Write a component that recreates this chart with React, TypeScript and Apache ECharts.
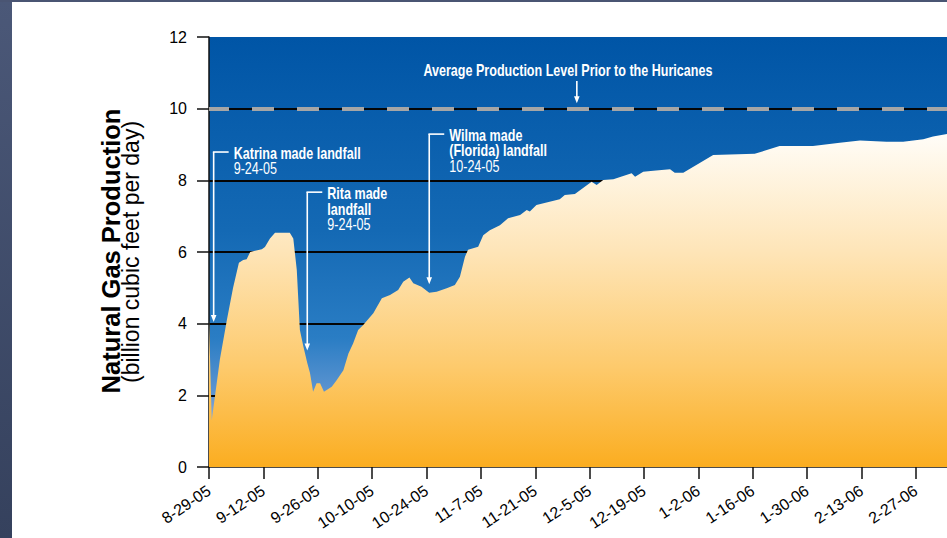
import { useEffect, useRef } from 'react';
import * as echarts from 'echarts';

// Date ticks along the x axis, one every two weeks starting 8-29-05 (day 0)
const tickLabels = [
  '8-29-05', '9-12-05', '9-26-05', '10-10-05', '10-24-05', '11-7-05', '11-21-05',
  '12-5-05', '12-19-05', '1-2-06', '1-16-06', '1-30-06', '2-13-06', '2-27-06',
];
const TICK_STEP = 14;
const tickDays = tickLabels.map((_, i) => i * TICK_STEP);
const X_MAX = 190;

// Gulf of Mexico natural gas production, days since 8-29-05
const days = [
  0, 0.7, 2.8, 4.6, 6.2, 7.7, 8.8, 9.7, 10.6, 13.6, 14.4, 15.7, 17.0, 20.8, 21.7,
  22.6, 23.4, 24.3, 25.3, 26.0, 26.8, 27.7, 28.6, 29.6, 31.6, 32.9, 34.6, 35.9, 37.1,
  38.4, 39.7, 42.3, 44.5, 46.6, 48.7, 50.0, 51.6, 52.6, 54.7, 56.7, 58.6, 61.2, 63.3,
  64.6, 65.9, 66.7, 69.3, 70.6, 72.3, 74.9, 77.0, 80.1, 81.8, 82.6, 84.3, 90.3, 91.6,
  94.2, 98.5, 99.8, 101.5, 104.1, 108.8, 109.7, 111.8, 114.4, 118.7, 119.9, 122.1,
  129.8, 140.5, 146.9, 155.5, 162.4, 167.6, 174.4, 178.7, 183.9, 186.4, 190,
];
// billion cubic feet per day
const production = [
  4.1, 1.3, 3.0, 4.1, 5.0, 5.7, 5.78, 5.8, 6.0, 6.08, 6.14, 6.38, 6.54, 6.54, 6.38,
  5.5, 3.82, 3.36, 2.9, 2.62, 2.1, 2.34, 2.34, 2.1, 2.24, 2.43, 2.7, 3.17, 3.45,
  3.82, 3.96, 4.29, 4.71, 4.8, 4.94, 5.17, 5.29, 5.13, 5.03, 4.86, 4.89, 4.99, 5.08,
  5.31, 5.87, 6.06, 6.15, 6.47, 6.61, 6.75, 6.94, 7.03, 7.17, 7.13, 7.31, 7.47, 7.59,
  7.62, 7.96, 7.87, 8.01, 8.03, 8.2, 8.1, 8.24, 8.27, 8.31, 8.21, 8.21,
  8.71, 8.74, 8.96, 8.96, 9.05, 9.11, 9.08, 9.08, 9.15, 9.22, 9.29,
];

const averageLevel = 10;

// Callouts: anchored in data space (day, value)
const averageNote = {
  text: 'Average Production Level Prior to the Huricanes',
  textDay: 92.4, textValue: 11.07,
  arrowDay: 94.7, arrowFrom: 10.77, arrowTo: 10.15,
};

const landfallNotes = [
  { day: 1.2, top: 8.79, tip: 4.05, lines: [['Katrina made landfall', true], ['9-24-05', false]] },
  { day: 25.3, top: 7.67, tip: 3.25, lines: [['Rita made', true], ['landfall', true], ['9-24-05', false]] },
  { day: 56.7, top: 9.29, tip: 5.1, lines: [['Wilma made', true], ['(Florida) landfall', true], ['10-24-05', false]] },
] as { day: number; top: number; tip: number; lines: [string, boolean][] }[];

const SANS = '"Liberation Sans", Arial, Helvetica, sans-serif';
// Callout type is a condensed grotesque: regular sans squeezed horizontally
const CONDENSE = 0.785;
const NOTE_SIZE = 16;
const NOTE_LINE = 15.8;

export default function App() {
  const ref = useRef<HTMLDivElement>(null);

  useEffect(() => {
    document.body.style.margin = '0';
    const chart = echarts.init(ref.current!, null, { renderer: 'svg' });

    const axisStroke = { color: '#111', width: 1.5 };

    chart.setOption({
      animation: false,
      backgroundColor: '#ffffff',
      grid: {
        left: 209, right: 0, top: 37, bottom: 71,
        show: true, borderWidth: 0,
        backgroundColor: new echarts.graphic.LinearGradient(0, 0, 0, 1, [
          { offset: 0, color: '#0055a6' },
          { offset: 0.45, color: '#1469b4' },
          { offset: 0.7, color: '#2a7dc4' },
          { offset: 0.82, color: '#5a93d0' },
          { offset: 0.92, color: '#a6b4d6' },
          { offset: 1, color: '#f0b860' },
        ]),
      },
      xAxis: {
        type: 'value', min: 0, max: X_MAX, interval: TICK_STEP,
        axisLine: { show: true, onZero: false, lineStyle: axisStroke },
        axisTick: { show: true, length: 12, lineStyle: axisStroke, customValues: tickDays },
        axisLabel: {
          customValues: tickDays,
          rotate: 34, margin: 22, fontSize: 16, color: '#000', fontFamily: SANS,
          formatter: (v: number) => tickLabels[Math.round(v / TICK_STEP)] ?? '',
        },
        splitLine: { show: false },
      },
      yAxis: {
        type: 'value', min: 0, max: 12, interval: 2,
        axisLine: { show: true, lineStyle: axisStroke },
        axisTick: { show: true, length: 12, lineStyle: axisStroke },
        axisLabel: { margin: 22, fontSize: 16, color: '#000', fontFamily: SANS },
        splitLine: {
          show: true, showMinLine: false, showMaxLine: false,
          lineStyle: { color: '#050505', width: 2 },
        },
      },
      series: [
        {
          type: 'line',
          data: days.map((d, i) => [d, production[i]]),
          symbol: 'none',
          lineStyle: { width: 0 },
          areaStyle: {
            opacity: 1,
            color: new echarts.graphic.LinearGradient(0, 0, 0, 1, [
              { offset: 0, color: '#fffdf8' },
              { offset: 0.35, color: '#fee5b8' },
              { offset: 0.7, color: '#fdca6c' },
              { offset: 1, color: '#fbad20' },
            ]),
          },
          markLine: {
            silent: true,
            symbol: ['none', 'none'],
            label: { show: false },
            lineStyle: { color: '#a6a6a6', width: 4, type: [22, 23], dashOffset: 2 },
            data: [{ yAxis: averageLevel }],
          },
          z: 3,
        },
      ],
    });

    const px = (d: number, v: number) =>
      chart.convertToPixel({ gridIndex: 0 }, [d, v]) as number[];

    const white = '#ffffff';
    const graphic: any[] = [];

    // Window frame strips
    graphic.push({
      type: 'rect', z: 0,
      shape: { x: 0, y: 0, width: 12, height: 538 },
      style: {
        fill: new echarts.graphic.LinearGradient(0, 0, 0, 1, [
          { offset: 0, color: '#4b5878' },
          { offset: 1, color: '#35415d' },
        ]),
      },
    });
    graphic.push({
      type: 'rect', z: 0,
      shape: { x: 0, y: 0, width: 947, height: 2 },
      style: { fill: '#4a5573' },
    });

    // Vertical y-axis title
    graphic.push({
      type: 'text', x: 111, y: 251, rotation: Math.PI / 2, z: 10,
      style: {
        text: 'Natural Gas Production', fill: '#000',
        fontFamily: SANS, fontWeight: 'bold', fontSize: 25.5,
        align: 'center', verticalAlign: 'middle',
      },
    });
    graphic.push({
      type: 'text', x: 131, y: 252, rotation: Math.PI / 2, z: 10,
      style: {
        text: '(billion cubic feet per day)', fill: '#000',
        fontFamily: SANS, fontSize: 23,
        align: 'center', verticalAlign: 'middle',
      },
    });

    const arrow = (x: number, y1: number, y2: number) => {
      graphic.push({
        type: 'line', z: 20,
        shape: { x1: x, y1, x2: x, y2: y2 - 5 },
        style: { stroke: white, lineWidth: 1.6 },
      });
      graphic.push({
        type: 'polygon', z: 20,
        shape: { points: [[x - 2.8, y2 - 7], [x + 2.8, y2 - 7], [x, y2]] },
        style: { fill: white },
      });
    };

    const noteRich = {
      b: { fill: white, fontFamily: SANS, fontWeight: 'bold', fontSize: NOTE_SIZE, lineHeight: NOTE_LINE },
      n: { fill: white, fontFamily: SANS, fontWeight: 'normal', fontSize: NOTE_SIZE, lineHeight: NOTE_LINE },
    };

    // Average production callout
    {
      const [tx, ty] = px(averageNote.textDay, averageNote.textValue);
      graphic.push({
        type: 'text', x: tx, y: ty, z: 20, scaleX: CONDENSE,
        style: {
          text: averageNote.text, fill: white, fontFamily: SANS,
          fontWeight: 'bold', fontSize: NOTE_SIZE, align: 'center', verticalAlign: 'middle',
        },
      });
      const [ax, ay1] = px(averageNote.arrowDay, averageNote.arrowFrom);
      const [, ay2] = px(averageNote.arrowDay, averageNote.arrowTo);
      arrow(ax, ay1, ay2);
    }

    // Landfall callouts
    landfallNotes.forEach((n) => {
      const [x, yTop] = px(n.day, n.top);
      const [, yTip] = px(n.day, n.tip);
      arrow(x, yTop, yTip);
      graphic.push({
        type: 'line', z: 20,
        shape: { x1: x - 0.8, y1: yTop, x2: x + 15, y2: yTop },
        style: { stroke: white, lineWidth: 1.6 },
      });
      const text = n.lines.map(([t, bold]) => `{${bold ? 'b' : 'n'}|${t}}`).join('\n');
      graphic.push({
        type: 'text', x: x + 20, y: yTop + 1 - NOTE_LINE / 2, z: 20, scaleX: CONDENSE,
        style: { text, rich: noteRich, align: 'left', verticalAlign: 'top' },
      });
    });

    chart.setOption({ graphic });

    return () => chart.dispose();
  }, []);

  return <div ref={ref} style={{ width: 947, height: 538 }} />;
}
